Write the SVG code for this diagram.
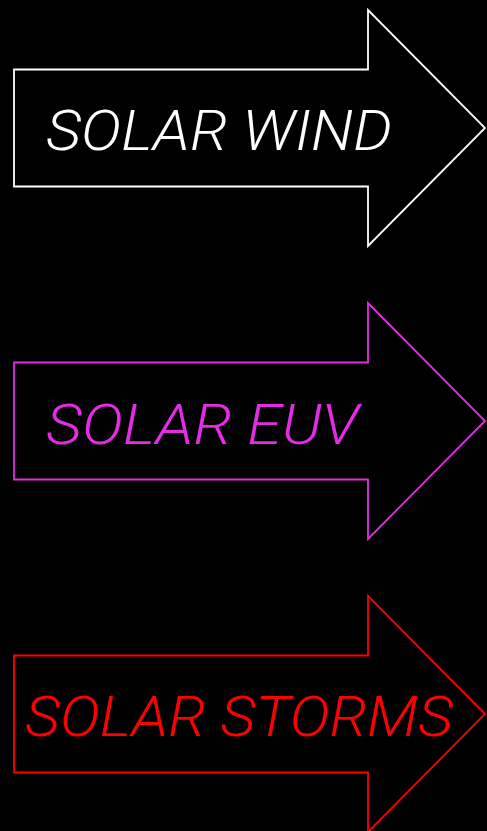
<svg xmlns="http://www.w3.org/2000/svg" width="487" height="831" viewBox="0 0 487 831">
<style>
.arrow{fill:#000;stroke-width:1.8;stroke-linejoin:miter}
.lbl{font-family:Roboto,"Liberation Sans",Arial,sans-serif;font-style:italic;font-weight:300;font-size:55px}
</style>
<defs>
<path id="arrowShape" d="M14,-58.5 H368 V-118 L485,0 L368,118 V58.5 H14 Z"/>
</defs>
<rect x="0" y="0" width="487" height="831" fill="#000"/>
<g id="connectors"></g>
<g id="solar-wind" transform="translate(0,128)">
<use href="#arrowShape" class="arrow" stroke="#ffffff"/>
<text class="lbl" x="46" y="22" fill="#ffffff" textLength="346" lengthAdjust="spacingAndGlyphs">SOLAR WIND</text>
</g>
<g id="solar-euv" transform="translate(0,421)">
<use href="#arrowShape" class="arrow" stroke="#e52be5"/>
<text class="lbl" x="46" y="22.5" fill="#e52be5" textLength="313" lengthAdjust="spacingAndGlyphs">SOLAR EUV</text>
</g>
<g id="solar-storms" transform="translate(0,714)">
<use href="#arrowShape" class="arrow" stroke="#ff0000"/>
<text class="lbl" x="25" y="22" fill="#ff0000" textLength="428" lengthAdjust="spacingAndGlyphs">SOLAR STORMS</text>
</g>
</svg>
